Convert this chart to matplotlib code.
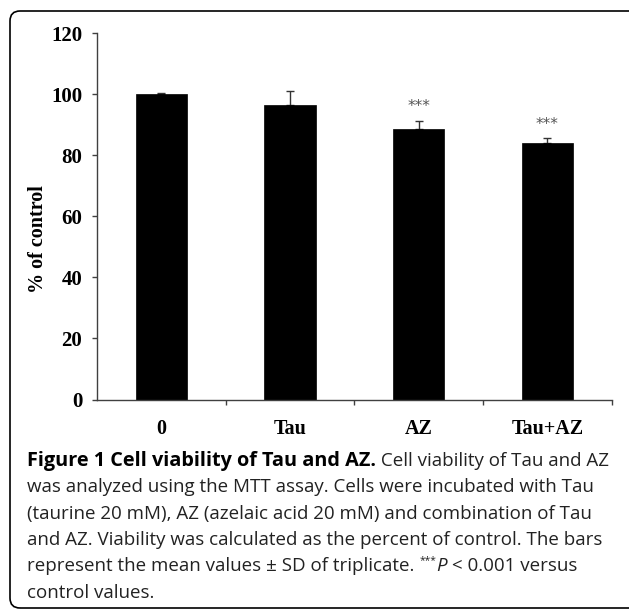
import matplotlib
matplotlib.use('Agg')
import matplotlib.pyplot as plt
from matplotlib.patches import FancyBboxPatch
from matplotlib.transforms import IdentityTransform

# ---- data ----
categories = ['0', 'Tau', 'AZ', 'Tau+AZ']
means = [100.0, 96.5, 88.6, 83.9]
sd = [0.3, 4.7, 2.8, 1.7]
significance = ['', '', '***', '***']
y_ticks = [0, 20, 40, 60, 80, 100, 120]
y_label = '% of control'

caption_lines = [
    [("Figure 1 Cell viability of Tau and AZ.", 'bold'), (" Cell viability of Tau and AZ", 'normal')],
    [("was analyzed using the MTT assay. Cells were incubated with Tau", 'normal')],
    [("(taurine 20 mM), AZ (azelaic acid 20 mM) and combination of Tau", 'normal')],
    [("and AZ. Viability was calculated as the percent of control. The bars", 'normal')],
    [("represent the mean values \u00b1 SD of triplicate. ", 'normal'), ("***", 'sup'),
     ("P", 'italic'), (" < 0.001 versus", 'normal')],
    [("control values.", 'normal')],
]

W, H = 629, 609
fig = plt.figure(figsize=(W / 100, H / 100), dpi=100)
ax = fig.add_axes([97 / W, (H - 399.5) / H, (611.7 - 97) / W, (399.5 - 33.3) / H])

serif = 'Liberation Serif'
x = list(range(len(categories)))
ax.errorbar(x, means, yerr=[[0] * len(sd), sd], fmt='none', ecolor='#333333',
            elinewidth=1.0, capsize=2.6, capthick=1.0, zorder=1)
ax.bar(x, means, width=0.4, color='black', edgecolor='black', linewidth=0.5, zorder=2)

for xi, m, s, sig in zip(x, means, sd, significance):
    if sig:
        ax.text(xi, m + s + 4.6, sig, ha='center', va='center', fontsize=11,
                color='#555555', family='DejaVu Sans')

ax.set_xlim(-0.5, len(categories) - 0.5)
ax.set_ylim(0, 120)
ax.set_yticks(y_ticks)
ax.set_yticklabels([str(t) for t in y_ticks], fontsize=15, fontweight='bold', family=serif)
ax.set_xticks([i + 0.5 for i in x])
ax.set_xticklabels([])
ax.set_xticks(x, minor=True)
ax.set_xticklabels(categories, minor=True, fontsize=14.5, fontweight='bold', family=serif)
ax.tick_params(axis='x', which='major', direction='out', length=3.6, width=1.0, color='#404040')
ax.tick_params(axis='x', which='minor', length=0, pad=14)
ax.tick_params(axis='y', direction='out', length=3.6, width=1.0, color='#404040', pad=7)
for sp in ['top', 'right']:
    ax.spines[sp].set_visible(False)
for sp in ['left', 'bottom']:
    ax.spines[sp].set_color('#404040')
    ax.spines[sp].set_linewidth(1.0)

fig.text(38 / W, 1 - 239.5 / H, y_label, rotation=90, ha='center', va='center',
         fontsize=14.5, fontweight='bold', family=serif)

# ---- caption ----
cap_font = 'Open Sans'
cap_size = 13.5
bold_size = 14.3
renderer = fig.canvas.get_renderer()
x0 = 27
base0 = 466
step = 26.3
for li, runs in enumerate(caption_lines):
    xpos = x0
    ybase = H - (base0 + li * step)
    for txt, style in runs:
        kw = dict(family=cap_font, fontsize=cap_size, color='#222222')
        yb = ybase
        if style == 'bold':
            kw['fontweight'] = 'bold'
            kw['fontsize'] = bold_size
            kw['color'] = 'black'
        elif style == 'italic':
            kw['fontstyle'] = 'italic'
        elif style == 'sup':
            kw['fontsize'] = cap_size * 0.55
            yb = ybase + 8
        t = fig.text(xpos / W, yb / H, txt, ha='left', va='baseline', **kw)
        bb = t.get_window_extent(renderer)
        xpos = bb.x1

# ---- rounded frame ----
frame = FancyBboxPatch((10, 1), 640, 597, boxstyle='round,pad=0,rounding_size=10',
                       transform=IdentityTransform(), fill=False, lw=1.2, ec='black')
fig.add_artist(frame)

fig.savefig('out.png', dpi=100)
